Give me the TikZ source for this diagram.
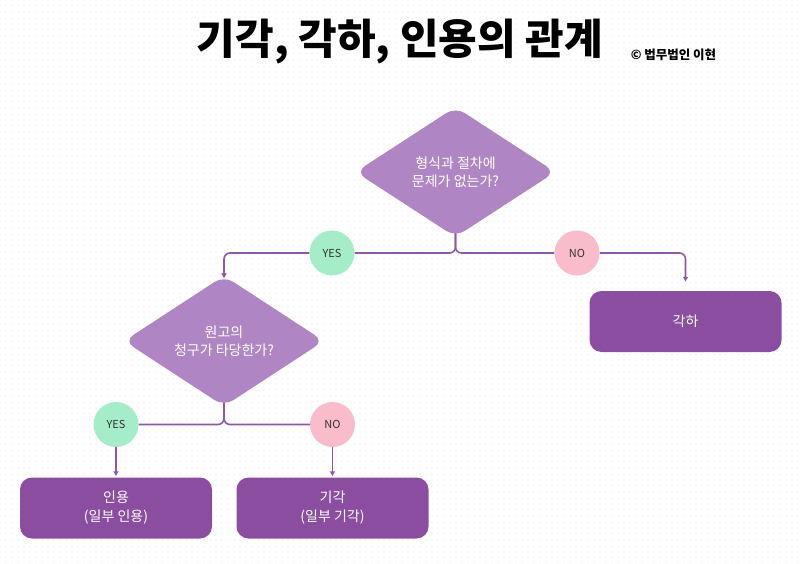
\documentclass[tikz,border=0pt]{standalone}
\usepackage{fontspec}
\setmainfont{Noto Sans CJK KR}
\usetikzlibrary{shapes.geometric,backgrounds,patterns.meta,arrows.meta}
\definecolor{decisionfill}{HTML}{B085C4}
\definecolor{outcomefill}{HTML}{8A4DA0}
\definecolor{flowline}{HTML}{8E58A8}
\definecolor{yesfill}{HTML}{A5EDC8}
\definecolor{nofill}{HTML}{F9BCCB}
\definecolor{dotgray}{HTML}{E4E4E4}

\begin{document}
\begin{tikzpicture}[x=1pt,y=-1pt,>={Latex[length=5pt,width=6pt]},
  decision/.style={diamond,fill=decisionfill,text=white,rounded corners=11pt,
    minimum width=200pt,minimum height=130pt,inner sep=0pt,align=center,
    font=\fontsize{14}{18}\selectfont},
  outcome/.style={rectangle,fill=outcomefill,text=white,rounded corners=12pt,
    minimum width=192pt,minimum height=61pt,align=center,
    font=\fontsize{14}{19}\selectfont},
  answer/.style={circle,minimum size=45pt,inner sep=0pt,text=black!80,
    font=\fontsize{11}{13}\selectfont},
  flow/.style={draw=flowline,line width=1.6pt,rounded corners=6pt}]
  % title
  \node[font=\fontsize{42}{46}\selectfont\bfseries] (title) at (400,42) {기각, 각하, 인용의 관계};
  \node[font=\fontsize{12.5}{14}\selectfont\bfseries] (credit) at (673.5,55) {© 법무법인 이현};
  % decisions
  \node[decision] (form) at (455.5,172) {형식과 절차에\\문제가 없는가?};
  \node[decision] (claim) at (224,341) {원고의\\청구가 타당한가?};
  % outcomes
  \node[outcome] (dismiss) at (685.5,321.5) {각하};
  \node[outcome] (accept) at (116,508) {인용\\(일부 인용)};
  \node[outcome] (reject) at (332.5,508) {기각\\(일부 기각)};
  % answers
  \node[answer,fill=yesfill] (yes1) at (332,253) {YES};
  \node[answer,fill=nofill] (no1) at (577,253) {NO};
  \node[answer,fill=yesfill] (yes2) at (116,424.5) {YES};
  \node[answer,fill=nofill] (no2) at (332.5,424.5) {NO};
  \begin{scope}[on background layer]
    \fill[white] (0,0) rectangle (800,564);
    \fill[pattern={Dots[distance=6pt,radius=0.6pt]},pattern color=dotgray] (0,0) rectangle (800,564);
    \draw[flow] (form.center) |- (yes1.east);
    \draw[flow] (form.center) |- (no1.west);
    \draw[flow,->,shorten >=-3pt] (yes1.west) -| (claim.north);
    \draw[flow,->,shorten >=9pt] (no1.east) -| (dismiss.north);
    \draw[flow] (claim.center) |- (yes2.east);
    \draw[flow] (claim.center) |- (no2.west);
    \draw[flow,->,shorten >=1pt] (yes2.south) -- (accept.north);
    \draw[flow,->,shorten >=1pt] (no2.south) -- (reject.north);
  \end{scope}
\end{tikzpicture}
\end{document}
